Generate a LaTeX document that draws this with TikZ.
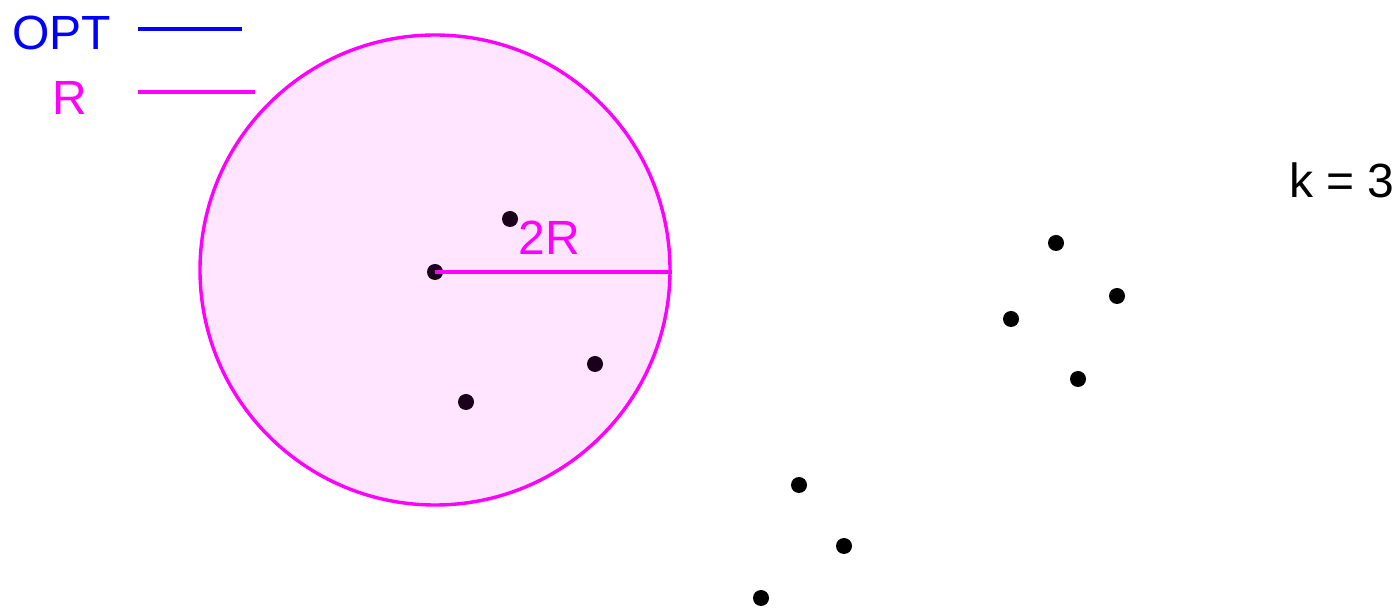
\documentclass[tikz,border=0pt]{standalone}
\usepackage{fontspec}
\setmainfont{Liberation Sans}
\usetikzlibrary{positioning}

\definecolor{pmag}{RGB}{255,0,255}
\definecolor{pblue}{RGB}{0,0,255}

\tikzset{
  pt/.style={circle, fill=black, inner sep=0pt, minimum size=8pt},
  lbl/.style={inner sep=0pt, font=\fontsize{24}{28}\selectfont},
}

\begin{document}
\begin{tikzpicture}[x=0.5pt, y=-0.5pt]
  \useasboundingbox (0,0) rectangle (1398,608);

  % legend
  \node[lbl, text=pblue, anchor=west] (opt) at (12,33) {OPT};
  \node[lbl, text=pmag, anchor=west] (rr) at (52,98) {R};
  \coordinate (optA) at (138,29);
  \coordinate (optB) at (242,29);
  \coordinate (rA) at (138,92);
  \coordinate (rB) at (255,92);
  \draw[pblue, line width=2pt] (optA) -- (optB);
  \draw[pmag, line width=2pt] (rA) -- (rB);

  % points in the ball
  \node[pt] (c0) at (435,272) {};
  \node[pt] (p1) at (510,219) {};
  \node[pt] (p2) at (595,364) {};
  \node[pt] (p3) at (466,402) {};

  % the ball of radius 2R
  \node[circle, draw=pmag, line width=1.7pt, fill=pmag, fill opacity=0.1,
        minimum size=235pt, inner sep=0pt] (ball) at (435,270) {};
  \draw[pmag, line width=1.7pt] (c0.center) -- (ball.east |- c0.center);
  \node[lbl, text=pmag] (rad) at (549,238) {2R};

  % other points
  \node[pt] (q1) at (1056,243) {};
  \node[pt] (q2) at (1117,296) {};
  \node[pt] (q3) at (1011,319) {};
  \node[pt] (q4) at (1078,379) {};
  \node[pt] (q5) at (799,485) {};
  \node[pt] (q6) at (844,546) {};
  \node[pt] (q7) at (761,598) {};

  \node[lbl, anchor=east] (k) at (1395,180) {k = 3};
\end{tikzpicture}
\end{document}
